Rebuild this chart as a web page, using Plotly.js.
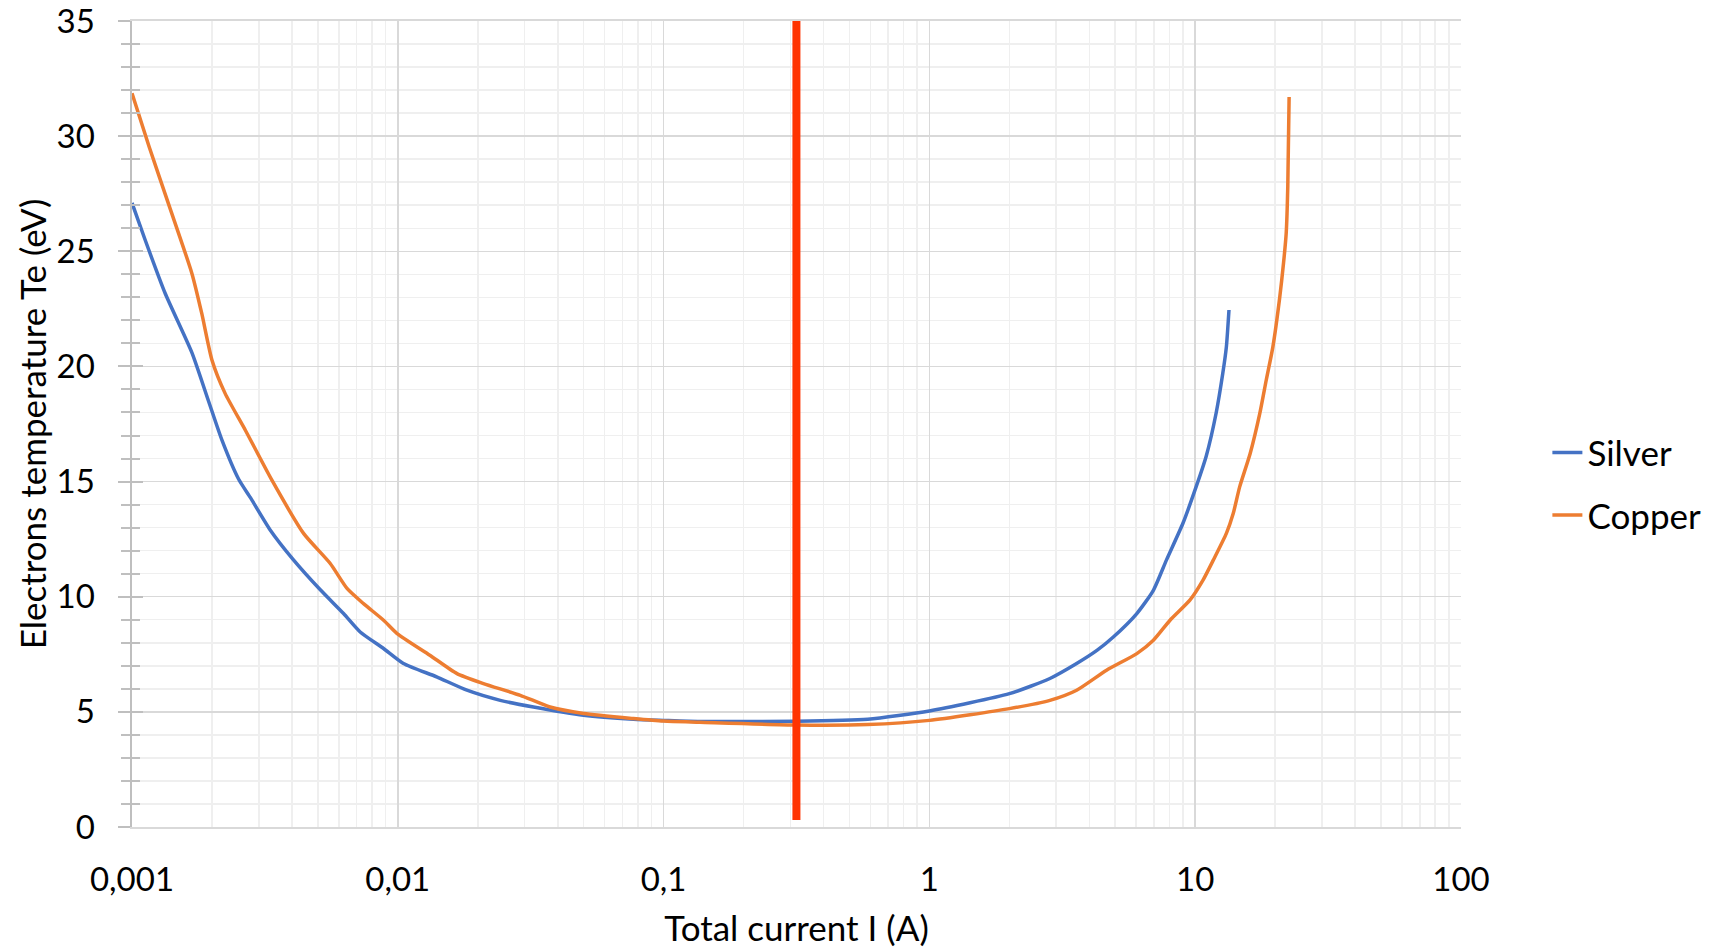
<!DOCTYPE html>
<html>
<head>
<meta charset="utf-8">
<script src="https://cdn.plot.ly/plotly-3.0.1.min.js"></script>
<style>html,body{margin:0;padding:0;background:#fff;}#chart{width:1719px;height:948px;}</style>
</head>
<body>
<div id="chart"></div>
<script>
// Silver series
const silverI = [0.001, 0.00112, 0.00133, 0.00168, 0.00194, 0.00218, 0.00252, 0.00279, 0.00331, 0.00405, 0.00511, 0.00625, 0.00722, 0.00884, 0.0105, 0.014, 0.0182, 0.0243, 0.0324, 0.05, 0.077, 0.1, 0.137, 0.316, 0.586, 1.0, 2.0, 2.84, 3.58, 4.28, 4.92, 6.03, 6.96, 7.8, 9.0, 10.1, 11.0, 12.0, 12.7, 13.1, 13.4];
const silverTe = [27.1, 25.5, 23.2, 20.6, 18.5, 16.8, 15.1, 14.3, 12.9, 11.6, 10.3, 9.27, 8.47, 7.75, 7.1, 6.52, 5.94, 5.5, 5.21, 4.85, 4.68, 4.63, 4.58, 4.59, 4.68, 5.04, 5.79, 6.45, 7.1, 7.68, 8.25, 9.27, 10.28, 11.6, 13.2, 14.8, 16.1, 18.0, 19.7, 20.85, 22.45];
// Copper series
const copperI = [0.001, 0.00116, 0.00137, 0.00168, 0.00183, 0.002, 0.00224, 0.00267, 0.00336, 0.00442, 0.00557, 0.00644, 0.00743, 0.00884, 0.00994, 0.0132, 0.0167, 0.021, 0.0289, 0.0374, 0.05, 0.077, 0.1, 0.137, 0.316, 0.586, 1.0, 2.0, 2.84, 3.58, 4.64, 6.03, 6.96, 8.04, 9.55, 10.7, 11.7, 13.1, 13.9, 14.7, 16.1, 17.5, 18.5, 19.6, 20.8, 21.5, 22.0, 22.3, 22.56];
const copperTe = [31.86, 29.54, 27.08, 24.04, 22.3, 20.27, 18.83, 17.23, 15.06, 12.75, 11.44, 10.36, 9.70, 8.98, 8.40, 7.46, 6.66, 6.23, 5.72, 5.21, 4.93, 4.71, 4.60, 4.55, 4.43, 4.45, 4.63, 5.14, 5.50, 5.94, 6.81, 7.53, 8.11, 8.98, 9.85, 10.72, 11.59, 12.75, 13.61, 14.77, 16.22, 17.96, 19.40, 20.85, 23.0, 24.5, 25.8, 27.8, 31.7];
// Marker line (vertical)
const markerI = [0.316, 0.316];
const markerTe = [0.3, 35];
// Axis ticks
const xTickVals = [0.001, 0.01, 0.1, 1, 10, 100];
const xTickText = ["0,001", "0,01", "0,1", "1", "10", "100"];

const minorX = [];
for (let d = -3; d <= 1; d++) for (let k = 2; k <= 9; k++) minorX.push(k * Math.pow(10, d));

const font = "Lato, 'Open Sans', sans-serif";

const traces = [
  {x: silverI, y: silverTe, name: "Silver", type: "scatter", mode: "lines", legendgroup: "a",
   line: {color: "#4472C4", width: 3.5, shape: "spline", smoothing: 0.6}},
  {x: copperI, y: copperTe, name: "Copper", type: "scatter", mode: "lines", legendgroup: "b",
   line: {color: "#ED7D31", width: 3.5, shape: "spline", smoothing: 0.6}},
  {x: markerI, y: markerTe, type: "scatter", mode: "lines", showlegend: false, yaxis: "y2",
   line: {color: "#FF3300", width: 8}, cliponaxis: false, hoverinfo: "skip"}
];

const layout = {
  width: 1719, height: 948,
  margin: {l: 131.7, r: 257.6, t: 21, b: 121.3},
  paper_bgcolor: "#fff", plot_bgcolor: "#fff",
  font: {family: font, size: 33, color: "#000"},
  showlegend: true,
  legend: {x: 1.065, xanchor: "left", y: 0.426, yanchor: "middle", font: {size: 35, family: font},
           traceorder: "grouped", tracegroupgap: 14, bgcolor: "rgba(0,0,0,0)"},
  xaxis: {
    type: "log", range: [-3, 2], tickvals: xTickVals, ticktext: xTickText,
    showgrid: true, gridcolor: "#d9d9d9", gridwidth: 1.5,
    minor: {tickvals: minorX, showgrid: true, gridcolor: "#efefef", gridwidth: 1.5, ticks: ""},
    showline: true, linecolor: "#d9d9d9", linewidth: 2, mirror: true,
    ticks: "", ticklabelstandoff: 22, ticklabeloverflow: "allow",
    tickfont: {size: 33, family: font},
    title: {text: "Total current I (A)", font: {size: 35, family: font}, standoff: 22},
    automargin: false, zeroline: false, fixedrange: true
  },
  yaxis: {
    range: [0, 35], dtick: 5, tick0: 0,
    showgrid: true, gridcolor: "#d9d9d9", gridwidth: 1.5,
    minor: {dtick: 1, showgrid: true, gridcolor: "#efefef", gridwidth: 1.5, ticks: "outside", ticklen: 9, tickcolor: "#bfbfbf", tickwidth: 2},
    showline: true, linecolor: "#bfbfbf", linewidth: 2.5,
    ticks: "outside", ticklen: 12, tickcolor: "#bfbfbf", tickwidth: 2,
    ticklabelstandoff: 16, ticklabeloverflow: "allow",
    tickfont: {size: 33, family: font},
    title: {text: "Electrons temperature Te (eV)", font: {size: 35, family: font}, standoff: 0},
    automargin: false, zeroline: false, fixedrange: true
  },
  yaxis2: {
    overlaying: "y", range: [0, 35], dtick: 5, tick0: 0, side: "left",
    showgrid: false, zeroline: false, showticklabels: false, showline: false,
    ticks: "inside", ticklen: 11, tickcolor: "#bfbfbf", tickwidth: 2,
    minor: {dtick: 1, ticks: "inside", ticklen: 8, tickcolor: "#bfbfbf", tickwidth: 2, showgrid: false},
    fixedrange: true
  }
};

Plotly.newPlot("chart", traces, layout, {displayModeBar: false, staticPlot: true});
</script>
</body>
</html>
